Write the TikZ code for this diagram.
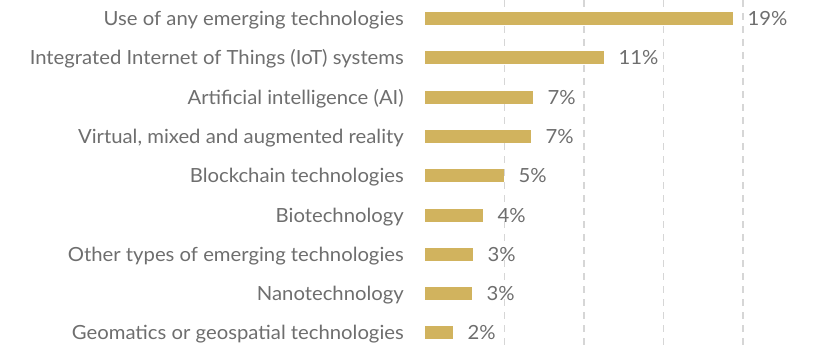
\documentclass[tikz,border=0pt]{standalone}
\usepackage{fontspec}
\setmainfont{Lato}[FakeStretch=1.04]
\definecolor{bargold}{HTML}{D1B35E}
\definecolor{txtgrey}{HTML}{6E6E6E}
\definecolor{gridgrey}{HTML}{D6D6D6}
\tikzset{
  barbox/.style={fill=bargold, draw=none, inner sep=0pt, minimum height=13pt, anchor=west},
  catlabel/.style={text=txtgrey, font=\fontsize{19.5}{22}\selectfont, inner sep=0pt, anchor=base east},
  pctlabel/.style={text=txtgrey, font=\fontsize{19.5}{22}\selectfont, inner sep=0pt, anchor=base west},
  gridline/.style={draw=gridgrey, line width=1.6pt, dash pattern=on 7pt off 6pt}
}
\begin{document}
\begin{tikzpicture}[x=1pt,y=1pt]
\useasboundingbox (0,0) rectangle (818,346);
% grid lines
\foreach \gx/\gn in {504.5/g1,584/g2,663.5/g3,743/g4}{
  \coordinate (\gn top) at (\gx,346);
  \coordinate (\gn bot) at (\gx,0);
  \draw[gridline] (\gn top) -- (\gn bot);
}
% bars
\foreach \i/\len/\pct/\lab in {
  0/308/19\%/Use of any emerging technologies,
  1/179/11\%/Integrated Internet of Things (IoT) systems,
  2/108/7\%/Artificial intelligence (AI),
  3/106/7\%/{Virtual, mixed and augmented reality},
  4/79/5\%/Blockchain technologies,
  5/58/4\%/Biotechnology,
  6/48/3\%/Other types of emerging technologies,
  7/47/3\%/Nanotechnology,
  8/28/2\%/Geomatics or geospatial technologies}{
  \pgfmathsetmacro{\yc}{346-(18.5+39.3*\i)}
  \node[barbox, minimum width=\len pt] (bar\i) at (425,\yc) {};
  \node[pctlabel] (pct\i) at ([xshift=14pt,yshift=-7pt]bar\i.east) {\pct};
  \node[catlabel] (cat\i) at (404,\yc-7) {\lab};
}
\end{tikzpicture}
\end{document}
